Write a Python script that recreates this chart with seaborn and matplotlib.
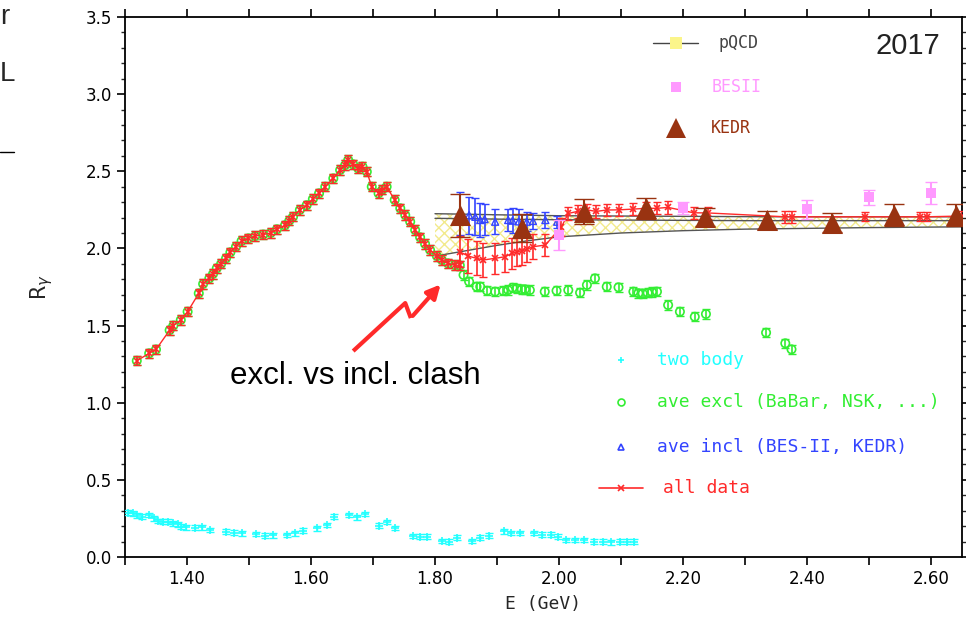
import numpy as np
import pandas as pd
import matplotlib
matplotlib.use('Agg')
import matplotlib.pyplot as plt
import seaborn as sns
from matplotlib.ticker import FixedLocator, MultipleLocator

# ---- data ----
# all data, dense part (exclusive sum below 1.84 GeV)
all_E = [1.319, 1.339, 1.350, 1.372, 1.378, 1.390, 1.401, 1.419, 1.426, 1.436, 1.442, 1.448,
         1.455, 1.463, 1.470, 1.479, 1.488, 1.499, 1.510, 1.523, 1.535, 1.545, 1.558, 1.565,
         1.571, 1.582, 1.593, 1.603, 1.613, 1.623, 1.636, 1.647, 1.655, 1.660, 1.668, 1.676,
         1.683, 1.690, 1.698, 1.709, 1.715, 1.722, 1.735, 1.744, 1.752, 1.760, 1.768, 1.776,
         1.784, 1.792, 1.803, 1.811, 1.821, 1.832, 1.840]
all_R = [1.272, 1.320, 1.345, 1.470, 1.500, 1.536, 1.590, 1.709, 1.770, 1.806, 1.835, 1.871,
         1.900, 1.936, 1.975, 2.011, 2.048, 2.065, 2.080, 2.090, 2.100, 2.124, 2.150, 2.180,
         2.205, 2.249, 2.280, 2.320, 2.357, 2.400, 2.454, 2.508, 2.540, 2.573, 2.545, 2.519,
         2.530, 2.497, 2.400, 2.357, 2.380, 2.400, 2.314, 2.260, 2.216, 2.173, 2.119, 2.072,
         2.029, 1.990, 1.951, 1.925, 1.903, 1.892, 1.890]
# all data above 1.84 GeV
hi_E = [1.840, 1.854, 1.867, 1.878, 1.897, 1.913, 1.924, 1.932, 1.940, 1.948, 1.958, 1.978,
        2.004, 2.015, 2.030, 2.045, 2.060, 2.077, 2.096, 2.120, 2.140, 2.158, 2.176, 2.217,
        2.240, 2.365, 2.375, 2.494, 2.582, 2.593, 2.650]
hi_R = [1.978, 1.950, 1.936, 1.925, 1.936, 1.946, 1.968, 1.978, 1.985, 1.994, 2.011, 2.022,
        2.140, 2.227, 2.240, 2.250, 2.240, 2.249, 2.250, 2.255, 2.260, 2.260, 2.266, 2.231,
        2.230, 2.205, 2.205, 2.205, 2.205, 2.205, 2.210]
hi_err = [0.10, 0.11, 0.11, 0.11, 0.10, 0.10, 0.10, 0.09, 0.09, 0.08, 0.08, 0.07,
          0.06, 0.04, 0.04, 0.04, 0.04, 0.04, 0.04, 0.04, 0.04, 0.04, 0.04, 0.04,
          0.04, 0.04, 0.04, 0.03, 0.03, 0.03, 0.03]

# exclusive average above 1.84 GeV
excl_E = [1.846, 1.855, 1.867, 1.873, 1.884, 1.897, 1.910, 1.918, 1.925, 1.932, 1.940, 1.945,
          1.953, 1.977, 1.996, 2.015, 2.034, 2.045, 2.058, 2.077, 2.096, 2.120, 2.128, 2.135,
          2.143, 2.150, 2.158, 2.176, 2.195, 2.219, 2.237, 2.334, 2.365, 2.375]
excl_R = [1.828, 1.785, 1.752, 1.752, 1.726, 1.720, 1.725, 1.730, 1.745, 1.740, 1.735, 1.735,
          1.730, 1.720, 1.726, 1.730, 1.713, 1.763, 1.806, 1.752, 1.748, 1.720, 1.710, 1.708,
          1.712, 1.718, 1.720, 1.633, 1.590, 1.557, 1.575, 1.454, 1.385, 1.346]

# inclusive average (BES-II, KEDR)
incl_E = [1.840, 1.855, 1.865, 1.873, 1.880, 1.897, 1.918, 1.925, 1.935, 1.948, 1.958, 1.978, 1.997]
incl_R = [2.227, 2.216, 2.205, 2.184, 2.190, 2.173, 2.184, 2.180, 2.175, 2.173, 2.178, 2.184, 2.173]
incl_err = [0.14, 0.12, 0.12, 0.11, 0.10, 0.08, 0.07, 0.08, 0.08, 0.06, 0.05, 0.05, 0.04]

# KEDR
kedr_E = [1.840, 1.940, 2.040, 2.140, 2.235, 2.335, 2.440, 2.540, 2.640]
kedr_R = [2.216, 2.130, 2.238, 2.260, 2.205, 2.184, 2.167, 2.215, 2.215]
kedr_err = [0.14, 0.09, 0.08, 0.07, 0.06, 0.06, 0.06, 0.07, 0.07]

# BESII
bes_E = [2.000, 2.200, 2.400, 2.500, 2.600]
bes_R = [2.087, 2.262, 2.253, 2.331, 2.361]
bes_err = [0.10, 0.04, 0.06, 0.05, 0.07]

# two body
two_E = [1.305, 1.313, 1.320, 1.327, 1.338, 1.346, 1.354, 1.362, 1.370, 1.378, 1.386, 1.391,
         1.399, 1.413, 1.424, 1.437, 1.463, 1.475, 1.488, 1.512, 1.526, 1.539, 1.561, 1.574,
         1.587, 1.610, 1.625, 1.637, 1.662, 1.674, 1.687, 1.709, 1.722, 1.736, 1.765, 1.776,
         1.787, 1.812, 1.823, 1.836, 1.859, 1.873, 1.887, 1.912, 1.923, 1.937, 1.959, 1.973,
         1.987, 1.998, 2.012, 2.026, 2.040, 2.057, 2.071, 2.084, 2.098, 2.109, 2.121]
two_R = [0.287, 0.283, 0.270, 0.261, 0.272, 0.251, 0.233, 0.229, 0.229, 0.218, 0.212, 0.196,
         0.192, 0.190, 0.192, 0.175, 0.164, 0.158, 0.154, 0.149, 0.138, 0.141, 0.143, 0.154,
         0.170, 0.186, 0.207, 0.261, 0.272, 0.257, 0.279, 0.204, 0.228, 0.188, 0.137, 0.132,
         0.132, 0.104, 0.099, 0.126, 0.104, 0.126, 0.139, 0.166, 0.155, 0.155, 0.155, 0.144,
         0.144, 0.132, 0.110, 0.110, 0.110, 0.099, 0.099, 0.095, 0.099, 0.099, 0.099]

# pQCD band
pqcd_E = [1.80, 1.85, 1.90, 1.95, 2.00, 2.10, 2.20, 2.30, 2.40, 2.50, 2.65]
pqcd_hi = [2.225, 2.222, 2.218, 2.215, 2.212, 2.210, 2.208, 2.206, 2.205, 2.205, 2.205]
pqcd_mid = [2.195, 2.193, 2.190, 2.188, 2.186, 2.184, 2.182, 2.180, 2.180, 2.180, 2.180]
pqcd_lo = [1.950, 1.985, 2.020, 2.050, 2.075, 2.100, 2.115, 2.125, 2.130, 2.135, 2.140]

# colours
red = '#ff2a2a'
green = '#33ee33'
cyan = '#22ffff'
blue = '#3344ff'
brown = '#993311'
pink = '#ff99ff'
yellow = '#f2ea8c'

sns.set_theme(style='ticks')
plt.rcParams['font.family'] = ['DejaVu Sans']

W, H = 966, 620
L, R, T, B = 125, 962, 17, 557
fig = plt.figure(figsize=(W / 100, H / 100), dpi=100)
ax = fig.add_axes([L / W, 1 - B / H, (R - L) / W, (B - T) / H])
ax.set_xlim(1.30, 2.65)
ax.set_ylim(0, 3.5)


def axfrac(x, y):
    # pixel position -> axes fraction
    return (x - L) / (R - L), (B - y) / (B - T)


# pQCD band with yellow cross hatch
ax.fill_between(pqcd_E, pqcd_lo, pqcd_hi, facecolor='none', edgecolor=yellow,
                hatch='xxx', linewidth=0, zorder=1)
for band in (pqcd_hi, pqcd_mid, pqcd_lo):
    sns.lineplot(x=pqcd_E, y=band, ax=ax, color='#555555', lw=1.0, zorder=2)

# two body
ax.errorbar(two_E, two_R, yerr=0.015, fmt='none', ecolor=cyan, elinewidth=1, capsize=3, zorder=3)
sns.scatterplot(x=two_E, y=two_R, ax=ax, marker='+', s=30, color=cyan, linewidth=1.2, zorder=3)

# exclusive average (below 1.84 identical to all data)
ex_E = all_E + excl_E
ex_R = all_R + excl_R
ax.errorbar(ex_E, ex_R, yerr=0.03, fmt='none', ecolor=green, elinewidth=1.2, capsize=3, zorder=3)
sns.scatterplot(x=ex_E, y=ex_R, ax=ax, marker='o', s=36, facecolor='none',
                edgecolor=green, linewidth=1.2, zorder=3)

# inclusive average
ax.errorbar(incl_E, incl_R, yerr=incl_err, fmt='none', ecolor=blue, elinewidth=1.2, capsize=3, zorder=4)
sns.scatterplot(x=incl_E, y=incl_R, ax=ax, marker='^', s=25, facecolor='none',
                edgecolor=blue, linewidth=1.0, zorder=4)

# all data
tot_E = all_E + hi_E
tot_R = all_R + hi_R
tot_err = [0.03] * len(all_E) + hi_err
ax.errorbar(tot_E, tot_R, yerr=tot_err, fmt='none', ecolor=red, elinewidth=1.2, capsize=3, zorder=5)
sns.lineplot(x=tot_E, y=tot_R, ax=ax, color=red, lw=1.0, marker='x', markersize=5,
             markeredgewidth=1.2, markeredgecolor=red, sort=False, estimator=None, zorder=5)

# BESII
ax.errorbar(bes_E, bes_R, yerr=bes_err, fmt='none', ecolor=pink, elinewidth=1.5, capsize=4, zorder=6)
sns.scatterplot(x=bes_E, y=bes_R, ax=ax, marker='s', s=60, color=pink, linewidth=0, zorder=6)

# KEDR
ax.errorbar(kedr_E, kedr_R, yerr=kedr_err, fmt='none', ecolor=brown, elinewidth=1.5, capsize=7, zorder=7)
sns.scatterplot(x=kedr_E, y=kedr_R, ax=ax, marker='^', s=230, color=brown, linewidth=0, zorder=7)

# axes, ticks
xt = [round(1.30 + 0.1 * i, 2) for i in range(14)]
ax.xaxis.set_major_locator(FixedLocator(xt))
ax.set_xticklabels([f'{v:.2f}' if i % 2 == 1 else '' for i, v in enumerate(xt)])
ax.yaxis.set_major_locator(MultipleLocator(0.5))
ax.yaxis.set_minor_locator(MultipleLocator(0.1))
ax.set_yticklabels([f'{v:.1f}' for v in ax.get_yticks()])
ax.tick_params(axis='both', which='major', direction='out', length=6, width=1.2,
               top=True, right=True, labelsize=12, colors='black')
ax.tick_params(axis='both', which='minor', direction='out', length=3, width=1.0,
               top=False, right=True)
for s in ax.spines.values():
    s.set_linewidth(1.3)
    s.set_color('black')
ax.set_xlabel('E (GeV)', fontsize=13, family='DejaVu Sans Mono', labelpad=5)
ax.set_ylabel(r'R$_\gamma$', fontsize=15, labelpad=22)

# legend, top right
x0, y0 = axfrac(653, 43)
x1, _ = axfrac(698, 43)
ax.plot([x0, x1], [y0, y0], color='#444444', lw=1, transform=ax.transAxes, clip_on=False)
mx, _ = axfrac(676, 0)
ax.plot([mx], [y0], marker='s', ms=8, color='#fbf58a', mew=0, transform=ax.transAxes)
ax.text(*axfrac(718, 43), 'pQCD', transform=ax.transAxes, va='center', fontsize=12,
        family='DejaVu Sans Mono', color='#444444')
_, yb = axfrac(0, 87)
ax.plot([mx], [yb], marker='s', ms=7, color=pink, mew=0, transform=ax.transAxes)
ax.text(*axfrac(712, 87), 'BESII', transform=ax.transAxes, va='center', fontsize=12,
        family='DejaVu Sans Mono', color=pink)
_, yk = axfrac(0, 128)
ax.plot([mx], [yk], marker='^', ms=14, color=brown, mew=0, transform=ax.transAxes)
ax.text(*axfrac(711, 128), 'KEDR', transform=ax.transAxes, va='center', fontsize=12,
        family='DejaVu Sans Mono', color=brown)
ax.text(*axfrac(940, 46), '2017', transform=ax.transAxes, va='center', ha='right',
        fontsize=21, family='Liberation Sans', color='#222222')

# legend, lower right
lx, _ = axfrac(621, 0)
entries = [(360, '+', cyan, 'two body', 657),
           (402, 'o', green, 'ave excl (BaBar, NSK, ...)', 657),
           (447, '^', blue, 'ave incl (BES-II, KEDR)', 657),
           (488, 'x', red, 'all data', 663)]
for yy, mk, col, lab, tx in entries:
    _, fy = axfrac(0, yy)
    ax.plot([lx], [fy], marker=mk, ms=5, mfc='none', mec=col, mew=1.2, transform=ax.transAxes)
    ax.text(*axfrac(tx, yy), lab, transform=ax.transAxes, va='center', fontsize=13,
            family='DejaVu Sans Mono', color=col)
_, fy = axfrac(0, 488)
ax.plot([axfrac(599, 0)[0], axfrac(643, 0)[0]], [fy, fy], color=red, lw=1.2, transform=ax.transAxes)

# annotation
ax.text(*axfrac(230, 376), 'excl. vs incl. clash', transform=ax.transAxes, va='center',
        fontsize=22.5, family='Liberation Sans', color='black')
bolt_E = [1.668, 1.752, 1.761]
bolt_R = [1.335, 1.646, 1.549]
ax.plot(bolt_E, bolt_R, color=red, lw=3, solid_capstyle='butt', zorder=8)
ax.annotate('', xy=(1.812, 1.780), xytext=(1.761, 1.549),
            arrowprops=dict(arrowstyle='-|>', color=red, lw=3, mutation_scale=20), zorder=8)

# clipped leftovers at the left edge
fig.text(0.0, 1 - 17 / H, 'r', fontsize=20, va='center', family='Liberation Sans')
fig.text(0.0, 1 - 74 / H, 'L', fontsize=20, va='center', family='Liberation Sans')
fig.add_artist(plt.Line2D([0, 14 / W], [1 - 152 / H, 1 - 152 / H], color='black', lw=1))

fig.savefig('out.png', dpi=100)
